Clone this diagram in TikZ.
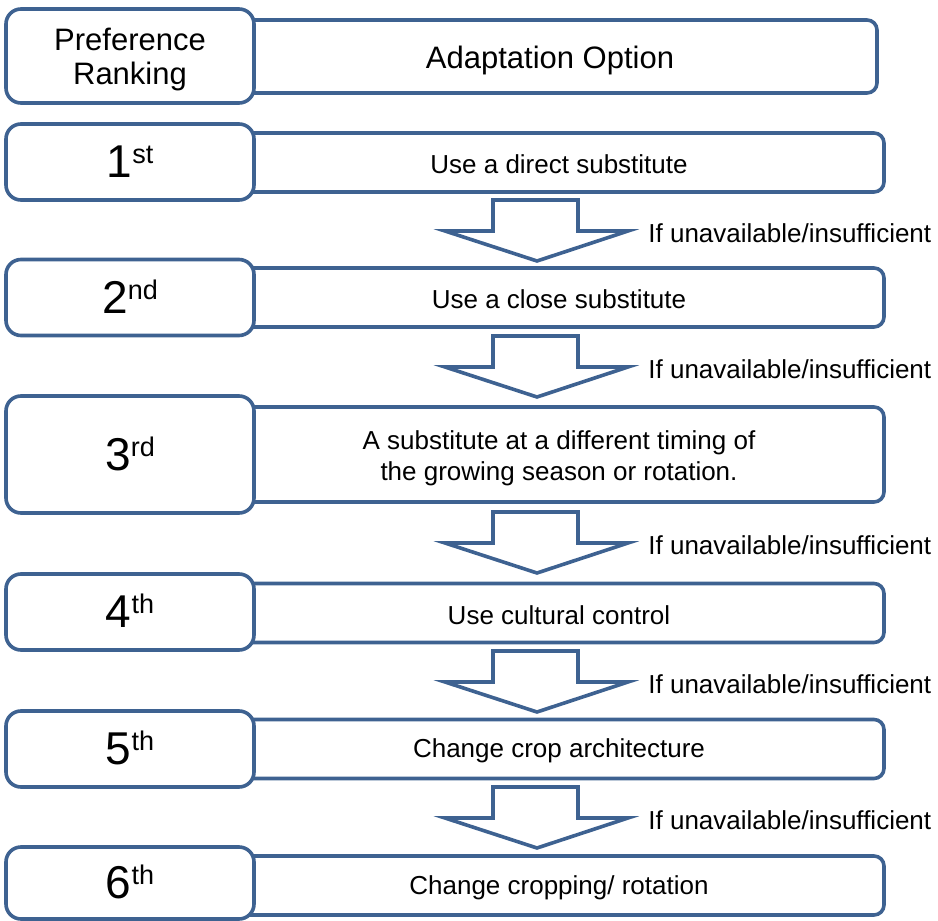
\documentclass[tikz,border=0pt]{standalone}
\usepackage{fontspec}
\setmainfont{Liberation Sans}
\usetikzlibrary{calc}
\definecolor{rankblue}{RGB}{62,98,145}
\newcommand{\ordinal}[2]{#1\smash{\raisebox{7pt}{\fontsize{13.5}{14}\selectfont #2}}}
\tikzset{
  rankbox/.style={draw=rankblue,line width=1.8pt,fill=white,rounded corners=7.5pt,
    minimum width=124pt,minimum height=38pt,inner sep=0pt,align=center,
    font=\fontsize{23}{26}\selectfont},
  optbox/.style={draw=rankblue,line width=1.8pt,fill=white,rounded corners=5pt,
    minimum width=325pt,minimum height=29.5pt,inner sep=0pt,align=center,
    font=\fontsize{13}{15.5}\selectfont,execute at begin node={\rule{0pt}{11.6pt}}},
  ifnote/.style={anchor=west,inner sep=0pt,font=\fontsize{13}{15.5}\selectfont,
    execute at begin node={\rule{0pt}{11.4pt}}},
  blockarrow/.style={draw=rankblue,line width=1.8pt,fill=white,line join=miter}
}

\begin{document}
\begin{tikzpicture}[x=0.5pt,y=-0.5pt]
  \useasboundingbox (0,0) rectangle (938,921);
  % adaptation options (behind the ranks)
  \node[optbox,minimum width=327pt,minimum height=36.5pt,font=\fontsize{15.5}{17}\selectfont,
    execute at begin node={\rule{0pt}{15pt}}] (opthead) at (550,56.5) {Adaptation Option};
  \node[optbox] (opt1) at (559,162.5) {Use a direct substitute};
  \node[optbox] (opt2) at (559,297.5) {Use a close substitute};
  \node[optbox,minimum height=47.5pt] (opt3) at (559,454.5) {\rule{0pt}{13.2pt}A substitute at a different timing of\\the growing season or rotation.};
  \node[optbox] (opt4) at (559,613) {Use cultural control};
  \node[optbox] (opt5) at (559,749) {Change crop architecture};
  \node[optbox] (opt6) at (559,885.5) {Change cropping/ rotation};
  % preference ranks
  \node[rankbox,minimum height=47pt,font=\fontsize{15.5}{17}\selectfont] (rankhead) at (130,56) {\rule{0pt}{14.3pt}Preference\\Ranking};
  \node[rankbox] (rank1) at (130,162) {\ordinal{1}{st}};
  \node[rankbox] (rank2) at (130,297.5) {\ordinal{2}{nd}};
  \node[rankbox,minimum height=58.5pt] (rank3) at (130,454.5) {\ordinal{3}{rd}};
  \node[rankbox] (rank4) at (130,612) {\ordinal{4}{th}};
  \node[rankbox] (rank5) at (130,749) {\ordinal{5}{th}};
  \node[rankbox,minimum height=36pt] (rank6) at (130,883) {\ordinal{6}{th}};
  % block arrows between the options
  \draw[blockarrow] (493,200) -- (578,200) -- (578,231) -- (628,231) -- (537,261) -- (445,231) -- (493,231) -- cycle;
  \draw[blockarrow] (493,336) -- (578,336) -- (578,367) -- (628,367) -- (537,397) -- (445,367) -- (493,367) -- cycle;
  \draw[blockarrow] (493,512) -- (578,512) -- (578,543) -- (628,543) -- (537,573) -- (445,543) -- (493,543) -- cycle;
  \draw[blockarrow] (493,651) -- (578,651) -- (578,682) -- (628,682) -- (537,712) -- (445,682) -- (493,682) -- cycle;
  \draw[blockarrow] (493,787) -- (578,787) -- (578,818) -- (628,818) -- (537,848) -- (445,818) -- (493,818) -- cycle;
  \node[ifnote] (if1) at (648,231) {If unavailable/insufficient};
  \node[ifnote] (if2) at (648,367) {If unavailable/insufficient};
  \node[ifnote] (if3) at (648,543) {If unavailable/insufficient};
  \node[ifnote] (if4) at (648,682) {If unavailable/insufficient};
  \node[ifnote] (if5) at (648,818) {If unavailable/insufficient};
\end{tikzpicture}
\end{document}
